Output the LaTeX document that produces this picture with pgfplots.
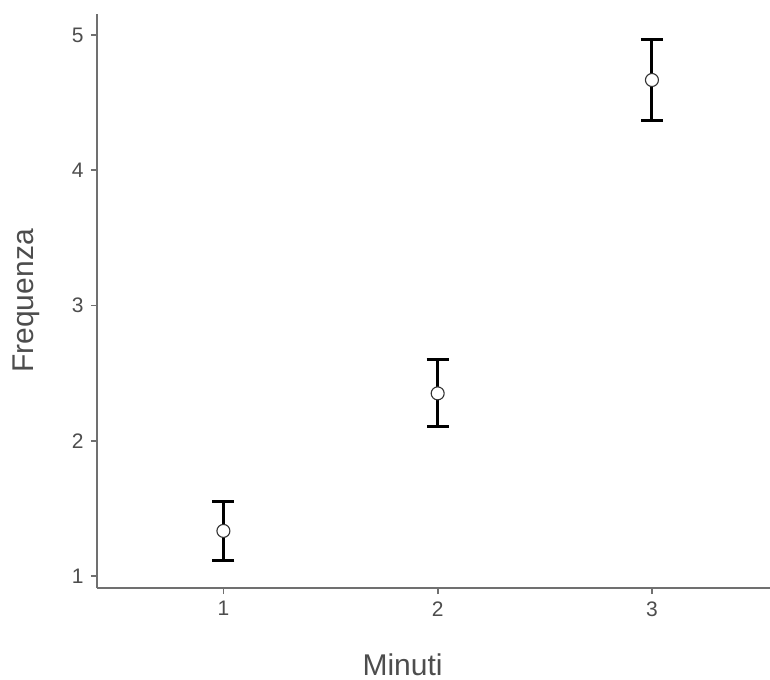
\documentclass[border=0pt]{standalone}
\usepackage{pgfplots}
\pgfplotsset{compat=1.18}
\usepackage{fontspec}
\setmainfont{Liberation Sans}
\definecolor{axgray}{HTML}{707070}
\definecolor{txtgray}{HTML}{4D4D4D}
\begin{document}
\begin{tikzpicture}
\path[use as bounding box] (-97bp,-92bp) rectangle (673bp,588bp);
\begin{axis}[
  scale only axis,
  width=673bp, height=574bp,
  at={(0,0)}, anchor=south west,
  xmin=0.41, xmax=3.551,
  ymin=0.911, ymax=5.155,
  axis x line*=bottom, axis y line*=left,
  axis line style={axgray, line width=1.8bp, -},
  xtick={1,2,3}, ytick={1,2,3,4,5},
  tick style={axgray, line width=1.8bp},
  tick align=outside,
  major tick length=6bp,
  tick label style={txtgray, font=\fontsize{21bp}{24bp}\selectfont},
  /pgf/number format/assume math mode=true,
  xticklabel style={yshift=-4bp},
  yticklabel style={xshift=-4bp},
  xlabel={Minuti}, ylabel={Frequenza},
  label style={txtgray, font=\fontsize{30bp}{34bp}\selectfont},
  xlabel style={at={(axis description cs:0.454,0)}, anchor=base, yshift=-87bp},
  ylabel style={at={(axis description cs:0,0.5)}, anchor=base, yshift=63bp},
]
\addplot[
  only marks,
  mark=*,
  mark size=6.5bp,
  mark options={fill=white, draw=black!80, line width=1.1bp},
  error bars/.cd,
    y dir=both, y explicit,
    error bar style={black, line width=3bp},
    error mark options={rotate=90, mark size=11bp, line width=3bp, black},
] coordinates {
  (1,1.333) +- (0,0.215)
  (2,2.350) +- (0,0.248)
  (3,4.667) +- (0,0.300)
};
\end{axis}
\end{tikzpicture}
\end{document}
